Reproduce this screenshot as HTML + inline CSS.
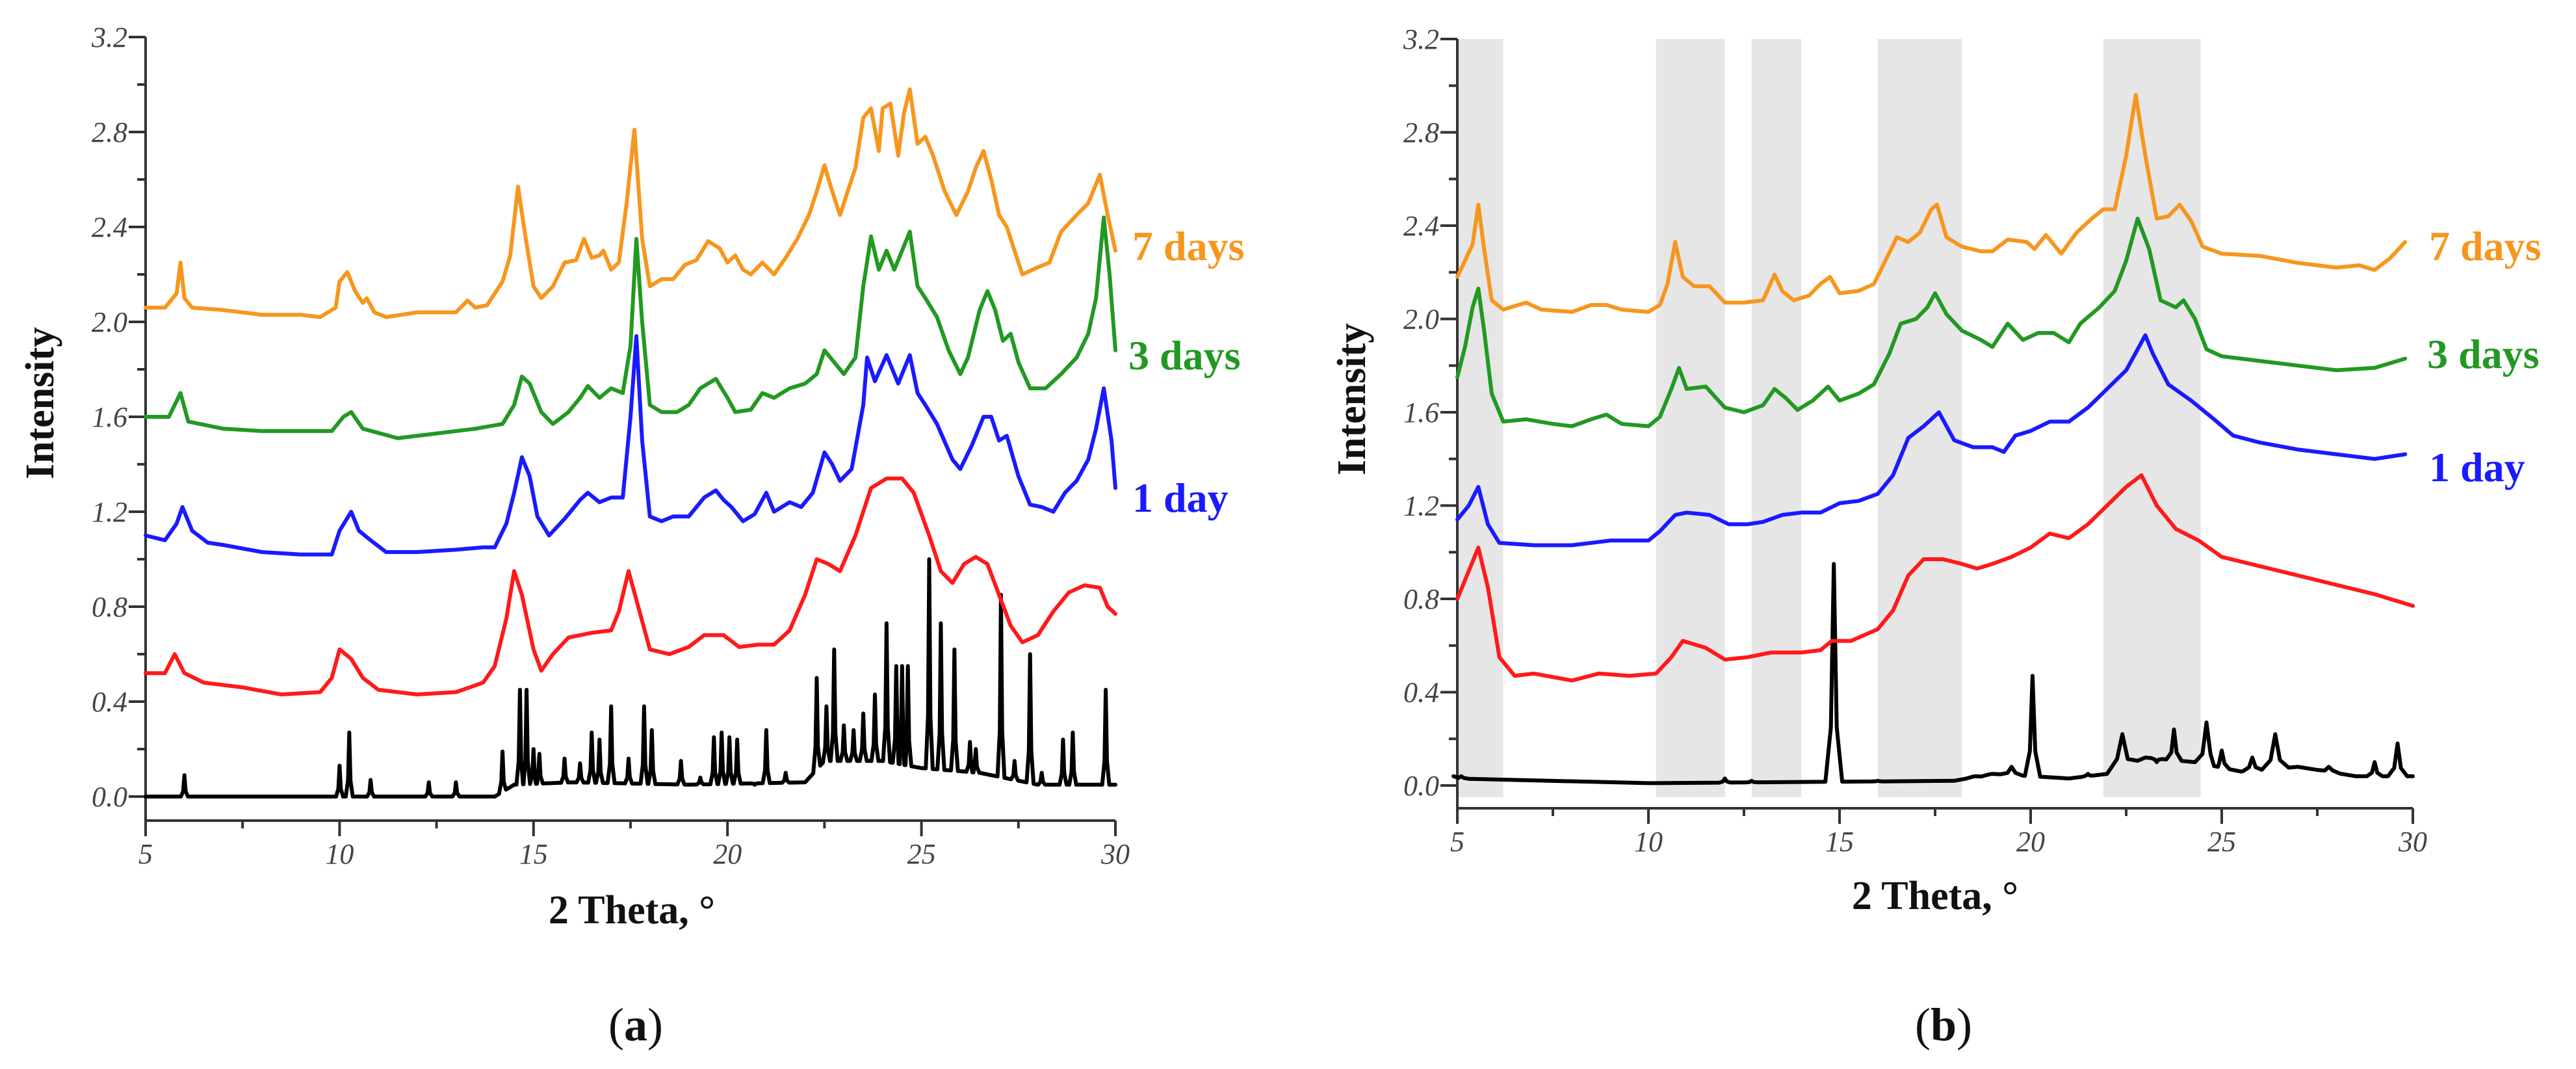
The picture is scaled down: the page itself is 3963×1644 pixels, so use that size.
<!DOCTYPE html>
<html><head><meta charset="utf-8"><style>
html,body{margin:0;padding:0;background:#fff;}
svg{display:block;}
.tick{font-family:"Liberation Serif",serif;font-style:italic;fill:#444;font-size:44px;}
.title{font-family:"Liberation Serif",serif;font-weight:bold;fill:#111;font-size:62px;}
.lab{font-family:"Liberation Serif",serif;font-weight:bold;font-size:64px;}
.cap{font-family:"Liberation Serif",serif;fill:#111;font-size:72px;}
</style></head><body>
<svg id="fig" width="3963" height="1644" viewBox="0 0 3963 1644" xmlns="http://www.w3.org/2000/svg">
<g id="panelA"></g>
<g id="panelB"></g>
<text class="cap" x="978" y="1600" text-anchor="middle">(<tspan font-weight="bold">a</tspan>)</text>
<text class="cap" x="2990" y="1600" text-anchor="middle">(<tspan font-weight="bold">b</tspan>)</text>
</svg>
<script>
// ---------- shared tick data ----------
const xTicks = [5,10,15,20,25,30];
const yTicks = [0.0,0.4,0.8,1.2,1.6,2.0,2.4,2.8,3.2];
const yTickLabels = ["0.0","0.4","0.8","1.2","1.6","2.0","2.4","2.8","3.2"];
const seriesLabels = ["7 days","3 days","1 day"];

// ---------- panel A data ----------
const aOrangeX=[5.0,5.5,5.8,5.9,6.0,6.2,7,8,9,9.5,9.9,10.0,10.2,10.4,10.6,10.7,10.9,11.2,12,13,13.3,13.5,13.8,14.0,14.2,14.4,14.6,14.8,15.0,15.2,15.5,15.8,16.1,16.3,16.5,16.7,16.8,17.0,17.2,17.4,17.6,17.8,18.0,18.3,18.6,18.9,19.2,19.5,19.8,20.0,20.2,20.4,20.6,20.9,21.2,21.5,21.8,22.1,22.3,22.5,22.7,22.9,23.1,23.3,23.5,23.7,23.9,24.0,24.2,24.4,24.55,24.7,24.9,25.1,25.3,25.6,25.9,26.2,26.4,26.6,26.8,27.0,27.2,27.4,27.6,28.0,28.3,28.6,29.0,29.3,29.6,29.8,30.0];
const aOrangeY=[2.06,2.06,2.12,2.25,2.10,2.06,2.05,2.03,2.03,2.02,2.06,2.17,2.21,2.13,2.08,2.10,2.04,2.02,2.04,2.04,2.09,2.06,2.07,2.12,2.17,2.28,2.57,2.35,2.15,2.10,2.15,2.25,2.26,2.35,2.27,2.28,2.30,2.22,2.25,2.50,2.81,2.35,2.15,2.18,2.18,2.24,2.26,2.34,2.31,2.25,2.28,2.22,2.20,2.25,2.20,2.27,2.35,2.45,2.55,2.66,2.55,2.45,2.55,2.65,2.86,2.90,2.72,2.90,2.92,2.70,2.88,2.98,2.75,2.78,2.70,2.55,2.45,2.55,2.65,2.72,2.60,2.45,2.40,2.30,2.20,2.23,2.25,2.38,2.45,2.50,2.62,2.45,2.30];
const aGreenX=[5.0,5.6,5.9,6.1,7,8,9,9.8,10.1,10.3,10.6,11.5,12.5,13.5,14.2,14.5,14.7,14.9,15.2,15.5,15.9,16.2,16.4,16.7,17.0,17.3,17.5,17.65,17.8,18.0,18.3,18.7,19.0,19.3,19.7,20.0,20.2,20.6,20.9,21.2,21.6,22.0,22.3,22.5,22.8,23.0,23.3,23.5,23.7,23.9,24.1,24.3,24.5,24.7,24.9,25.1,25.4,25.7,26.0,26.2,26.5,26.7,26.9,27.1,27.3,27.5,27.8,28.2,28.6,29.0,29.3,29.5,29.7,29.85,30.0];
const aGreenY=[1.60,1.60,1.70,1.58,1.55,1.54,1.54,1.54,1.60,1.62,1.55,1.51,1.53,1.55,1.57,1.65,1.77,1.74,1.62,1.57,1.62,1.68,1.73,1.68,1.72,1.70,1.90,2.35,2.00,1.65,1.62,1.62,1.65,1.72,1.76,1.68,1.62,1.63,1.70,1.68,1.72,1.74,1.78,1.88,1.82,1.78,1.85,2.15,2.36,2.22,2.30,2.22,2.30,2.38,2.15,2.10,2.02,1.88,1.78,1.85,2.05,2.13,2.05,1.92,1.95,1.83,1.72,1.72,1.78,1.85,1.95,2.10,2.44,2.20,1.88];
const aBlueX=[5.0,5.5,5.8,5.95,6.2,6.6,7,8,9,9.8,10.0,10.3,10.5,10.8,11.2,12,13,13.7,14.0,14.3,14.5,14.7,14.9,15.1,15.4,15.8,16.2,16.4,16.7,17.0,17.3,17.5,17.65,17.8,18.0,18.3,18.6,19.0,19.4,19.7,19.9,20.1,20.4,20.7,21.0,21.2,21.6,21.9,22.2,22.5,22.7,22.9,23.2,23.5,23.6,23.8,24.1,24.4,24.7,24.9,25.1,25.4,25.8,26.0,26.3,26.6,26.8,27.0,27.2,27.5,27.8,28.1,28.4,28.7,29.0,29.3,29.5,29.7,29.9,30.0];
const aBlueY=[1.10,1.08,1.15,1.22,1.12,1.07,1.06,1.03,1.02,1.02,1.12,1.20,1.12,1.08,1.03,1.03,1.04,1.05,1.05,1.15,1.28,1.43,1.35,1.18,1.10,1.17,1.25,1.28,1.24,1.26,1.26,1.60,1.94,1.50,1.18,1.16,1.18,1.18,1.26,1.29,1.25,1.22,1.16,1.19,1.28,1.20,1.24,1.22,1.28,1.45,1.40,1.33,1.38,1.65,1.85,1.75,1.86,1.74,1.86,1.70,1.65,1.57,1.42,1.38,1.48,1.60,1.60,1.50,1.52,1.35,1.23,1.22,1.20,1.28,1.33,1.42,1.55,1.72,1.50,1.30];
const aRedX=[5.0,5.5,5.75,6.0,6.5,7.5,8.5,9.5,9.8,10.0,10.3,10.6,11,12,13,13.7,14.0,14.3,14.5,14.7,15.0,15.2,15.5,15.9,16.5,17.0,17.2,17.45,17.7,18.0,18.5,19.0,19.4,19.9,20.3,20.8,21.2,21.6,22.0,22.3,22.6,22.9,23.3,23.7,24.1,24.5,24.8,25.2,25.5,25.8,26.1,26.4,26.7,27.0,27.3,27.6,28.0,28.4,28.8,29.2,29.6,29.8,30.0];
const aRedY=[0.52,0.52,0.60,0.52,0.48,0.46,0.43,0.44,0.50,0.62,0.58,0.50,0.45,0.43,0.44,0.48,0.55,0.75,0.95,0.85,0.62,0.53,0.60,0.67,0.69,0.70,0.78,0.95,0.80,0.62,0.60,0.63,0.68,0.68,0.63,0.64,0.64,0.70,0.85,1.00,0.98,0.95,1.10,1.30,1.34,1.34,1.28,1.10,0.95,0.90,0.98,1.01,0.98,0.85,0.72,0.65,0.68,0.78,0.86,0.89,0.88,0.80,0.77];
const aBlackBaseX=[5,14,14.5,16,19,22,22.5,24,25,26.5,28,30];
const aBlackBaseY=[0,0,0.05,0.06,0.05,0.06,0.15,0.15,0.12,0.10,0.05,0.05];
const aBlackPeakX=[6.0,10.0,10.25,10.8,12.3,13.0,14.2,14.65,14.82,15.0,15.15,15.8,16.2,16.5,16.7,17.0,17.45,17.85,18.05,18.8,19.3,19.65,19.85,20.05,20.25,20.7,21.0,21.5,22.3,22.55,22.75,23.0,23.25,23.5,23.8,24.1,24.35,24.5,24.65,25.2,25.5,25.85,26.25,26.4,27.05,27.4,27.8,28.1,28.65,28.9,29.75];
const aBlackPeakY=[0.09,0.13,0.27,0.07,0.06,0.06,0.19,0.45,0.45,0.20,0.18,0.16,0.14,0.27,0.24,0.38,0.16,0.38,0.28,0.15,0.08,0.25,0.27,0.25,0.24,0.05,0.28,0.10,0.50,0.38,0.62,0.30,0.28,0.35,0.43,0.73,0.55,0.55,0.55,1.00,0.73,0.62,0.23,0.20,0.85,0.15,0.60,0.10,0.24,0.27,0.45];

// ---------- panel B data ----------
const bBands=[[5.0,6.2],[10.2,12.0],[12.7,14.0],[16.0,18.2],[21.9,24.45]];
const bOrangeX=[5.0,5.2,5.4,5.55,5.7,5.9,6.2,6.8,7.2,8,8.5,8.9,9.3,10.0,10.3,10.5,10.7,10.9,11.2,11.6,12.0,12.5,13.0,13.3,13.5,13.8,14.2,14.5,14.75,15.0,15.5,15.9,16.2,16.5,16.8,17.1,17.4,17.55,17.8,18.2,18.7,19.0,19.4,19.9,20.1,20.4,20.8,21.2,21.6,21.9,22.2,22.5,22.75,23.0,23.3,23.6,23.9,24.2,24.5,25.0,26,27,28,28.6,29.0,29.4,29.8];
const bOrangeY=[2.18,2.25,2.32,2.49,2.30,2.08,2.04,2.07,2.04,2.03,2.06,2.06,2.04,2.03,2.06,2.15,2.33,2.18,2.14,2.14,2.07,2.07,2.08,2.19,2.12,2.08,2.10,2.15,2.18,2.11,2.12,2.15,2.25,2.35,2.33,2.37,2.47,2.49,2.35,2.31,2.29,2.29,2.34,2.33,2.30,2.36,2.28,2.37,2.43,2.47,2.47,2.70,2.96,2.70,2.43,2.44,2.49,2.42,2.31,2.28,2.27,2.24,2.22,2.23,2.21,2.26,2.33];
const bGreenX=[5.0,5.2,5.4,5.55,5.7,5.9,6.2,6.8,7.5,8.0,8.5,8.9,9.3,10.0,10.3,10.6,10.8,11.0,11.5,12.0,12.5,13.0,13.3,13.6,13.9,14.3,14.7,15.0,15.5,15.9,16.3,16.6,17.0,17.3,17.5,17.8,18.2,18.7,19.0,19.4,19.8,20.2,20.6,21.0,21.3,21.8,22.2,22.5,22.8,23.1,23.4,23.8,24.0,24.3,24.6,25.0,26,27,28,29,29.8];
const bGreenY=[1.75,1.88,2.05,2.13,1.95,1.68,1.56,1.57,1.55,1.54,1.57,1.59,1.55,1.54,1.58,1.70,1.79,1.70,1.71,1.62,1.60,1.63,1.70,1.66,1.61,1.65,1.71,1.65,1.68,1.72,1.85,1.98,2.00,2.05,2.11,2.02,1.95,1.91,1.88,1.98,1.91,1.94,1.94,1.90,1.98,2.05,2.12,2.25,2.43,2.30,2.08,2.05,2.08,2.00,1.87,1.84,1.82,1.80,1.78,1.79,1.83];
const bBlueX=[5.0,5.3,5.55,5.8,6.1,7,8,9,10.0,10.3,10.7,11.0,11.6,12.1,12.6,13.0,13.5,14.0,14.5,15.0,15.5,16.0,16.4,16.8,17.2,17.6,18.0,18.5,19.0,19.3,19.6,20.0,20.5,21.0,21.5,22.0,22.5,23.0,23.2,23.6,24.2,24.8,25.3,26,27,28,29,29.8];
const bBlueY=[1.14,1.20,1.28,1.12,1.04,1.03,1.03,1.05,1.05,1.09,1.16,1.17,1.16,1.12,1.12,1.13,1.16,1.17,1.17,1.21,1.22,1.25,1.33,1.49,1.54,1.60,1.48,1.45,1.45,1.43,1.50,1.52,1.56,1.56,1.62,1.70,1.78,1.93,1.85,1.72,1.65,1.57,1.50,1.47,1.44,1.42,1.40,1.42];
const bRedX=[5.0,5.2,5.55,5.8,6.1,6.5,7.0,8.0,8.7,9.5,10.2,10.6,10.9,11.5,12.0,12.6,13.2,14.0,14.5,14.8,15.3,16.0,16.4,16.8,17.2,17.7,18.2,18.6,19.0,19.5,20.0,20.5,21.0,21.5,22.0,22.5,22.9,23.3,23.8,24.4,25.0,26,27,28,29,30];
const bRedY=[0.80,0.88,1.02,0.85,0.55,0.47,0.48,0.45,0.48,0.47,0.48,0.55,0.62,0.59,0.54,0.55,0.57,0.57,0.58,0.62,0.62,0.67,0.75,0.90,0.97,0.97,0.95,0.93,0.95,0.98,1.02,1.08,1.06,1.12,1.20,1.28,1.33,1.20,1.10,1.05,0.98,0.94,0.90,0.86,0.82,0.77];
const bBlackBaseX=[5,10,18,19,21,22,23,24.3,25.5,27,28.5,30];
const bBlackBaseY=[0.03,0.01,0.02,0.05,0.03,0.05,0.12,0.10,0.06,0.08,0.04,0.04];
const bBlackPeakX=[5.1,12.0,12.7,14.85,16.0,18.6,19.5,20.05,21.5,22.4,23.3,23.75,24.6,25.0,25.8,26.4,27.8,29.0,29.6];
const bBlackPeakY=[0.04,0.03,0.02,0.95,0.02,0.04,0.08,0.47,0.05,0.22,0.10,0.24,0.27,0.15,0.12,0.22,0.08,0.10,0.18];
const bBlackPeakW=[0.2,0.15,0.15,0.22,0.15,0.3,0.3,0.2,0.15,0.4,0.15,0.2,0.3,0.2,0.25,0.35,0.3,0.2,0.25];

const NS="http://www.w3.org/2000/svg";
function mk(tag,attrs,parent){const e=document.createElementNS(NS,tag);for(const k in attrs)e.setAttribute(k,attrs[k]);parent.appendChild(e);return e;}
function interp(xs,ys,x){for(let i=0;i<xs.length-1;i++){if(x>=xs[i]&&x<=xs[i+1]){const t=(x-xs[i])/(xs[i+1]-xs[i]);return ys[i]+t*(ys[i+1]-ys[i]);}}return ys[ys.length-1];}
function peakPoints(bx,by,px,py,pw,defW){
  let pts=[];
  for(let i=0;i<px.length;i++){const w=pw?pw[i]:defW;const p=px[i];
    pts.push([p-w,interp(bx,by,p-w)]);
    pts.push([p-w*0.35,interp(bx,by,p)+(py[i]-interp(bx,by,p))*0.25]);
    pts.push([p,py[i]]);
    pts.push([p+w*0.35,interp(bx,by,p)+(py[i]-interp(bx,by,p))*0.25]);
    pts.push([p+w,interp(bx,by,p+w)]);}
  for(let j=0;j<bx.length;j++){const x=bx[j];let inside=false;
    for(let i=0;i<px.length;i++){const w=pw?pw[i]:defW;if(Math.abs(x-px[i])<w)inside=true;}
    if(!inside)pts.push([x,by[j]]);}
  pts.sort((a,b)=>a[0]-b[0]);return pts;
}

function drawPanel(g,cfg){
  const sx=v=>cfg.x0+(v-5)*(cfg.x1-cfg.x0)/25;
  const sy=v=>cfg.y0-v*(cfg.y0-cfg.yTop)/3.2;
  if(cfg.bands){cfg.bands.forEach(b=>{
    const r=mk('rect',{x:sx(b[0]),y:sy(3.2),width:sx(b[1])-sx(b[0]),height:sy(-0.05)-sy(3.2),fill:'#e6e6e6'},g);
    
    
  });}
  const ax=mk('g',{stroke:'#333','stroke-width':4,fill:'none'},g);
  
  
  mk('line',{x1:sx(5),y1:sy(3.2),x2:sx(5),y2:cfg.axisY+24},ax);
  mk('line',{x1:sx(5),y1:cfg.axisY,x2:sx(30),y2:cfg.axisY},ax);
  yTicks.forEach((v,i)=>{
    mk('line',{x1:sx(5)-26,y1:sy(v),x2:sx(5),y2:sy(v)},ax);
    if(i<yTicks.length-1)mk('line',{x1:sx(5)-13,y1:sy(v+0.2),x2:sx(5),y2:sy(v+0.2)},ax);
    const t=mk('text',{x:sx(5)-28,y:sy(v)+15,'text-anchor':'end',class:'tick'},g);
    t.textContent=yTickLabels[i];
    
    
  });
  xTicks.forEach((v,i)=>{
    mk('line',{x1:sx(v),y1:cfg.axisY,x2:sx(v),y2:cfg.axisY+24},ax);
    if(i<xTicks.length-1)mk('line',{x1:sx(v+2.5),y1:cfg.axisY,x2:sx(v+2.5),y2:cfg.axisY+12},ax);
    const t=mk('text',{x:sx(v),y:cfg.axisY+66,'text-anchor':'middle',class:'tick'},g);
    t.textContent=String(v);
    
    
  });
  cfg.series.forEach(s=>{
    let pts=s.pts||s.x.map((x,i)=>[x,s.y[i]]);
    const p=mk('polyline',{points:pts.map(q=>sx(q[0]).toFixed(1)+','+sy(q[1]).toFixed(1)).join(' '),fill:'none',stroke:s.c,'stroke-width':6,'stroke-linejoin':'round','stroke-linecap':'round'},g);
    
    
  });
  cfg.labels.forEach((l,i)=>{
    const t=mk('text',{x:l.x,y:l.y,class:'lab',fill:l.c},g);
    t.textContent=seriesLabels[i];
    
    
  });
  const yt=mk('text',{x:0,y:0,class:'title','text-anchor':'middle',transform:`translate(${cfg.ytX},${cfg.ytY}) rotate(-90)`},g);
  yt.textContent='Intensity';
  
  
  const xt=mk('text',{x:cfg.xtX,y:cfg.xtY,class:'title','text-anchor':'middle'},g);
  xt.textContent='2 Theta, °';
  
  
}

drawPanel(document.getElementById('panelA'),{
  x0:224,x1:1716,y0:1225,yTop:57,axisY:1262,
  series:[
    {name:'pattern-reference',c:'#000',pts:peakPoints(aBlackBaseX,aBlackBaseY,aBlackPeakX,aBlackPeakY,null,0.09)},
    {name:'pattern-0-day',c:'#ff1a1a',x:aRedX,y:aRedY},
    {name:'pattern-1-day',c:'#1a1aff',x:aBlueX,y:aBlueY},
    {name:'pattern-3-days',c:'#229922',x:aGreenX,y:aGreenY},
    {name:'pattern-7-days',c:'#f7961e',x:aOrangeX,y:aOrangeY}
  ],
  labels:[{x:1742,y:400,c:'#f7961e'},{x:1736,y:568,c:'#229922'},{x:1742,y:787,c:'#1a1aff'}],
  ytX:82,ytY:620,xtX:972,xtY:1420
});
drawPanel(document.getElementById('panelB'),{
  x0:2242,x1:3712,y0:1208,yTop:60,axisY:1243,bands:bBands,
  series:[
    {name:'pattern-reference',c:'#000',pts:peakPoints(bBlackBaseX,bBlackBaseY,bBlackPeakX,bBlackPeakY,bBlackPeakW,0.2)},
    {name:'pattern-0-day',c:'#ff1a1a',x:bRedX,y:bRedY},
    {name:'pattern-1-day',c:'#1a1aff',x:bBlueX,y:bBlueY},
    {name:'pattern-3-days',c:'#229922',x:bGreenX,y:bGreenY},
    {name:'pattern-7-days',c:'#f7961e',x:bOrangeX,y:bOrangeY}
  ],
  labels:[{x:3737,y:400,c:'#f7961e'},{x:3734,y:566,c:'#229922'},{x:3737,y:740,c:'#1a1aff'}],
  ytX:2100,ytY:614,xtX:2977,xtY:1398
});
</script>
</body></html>
